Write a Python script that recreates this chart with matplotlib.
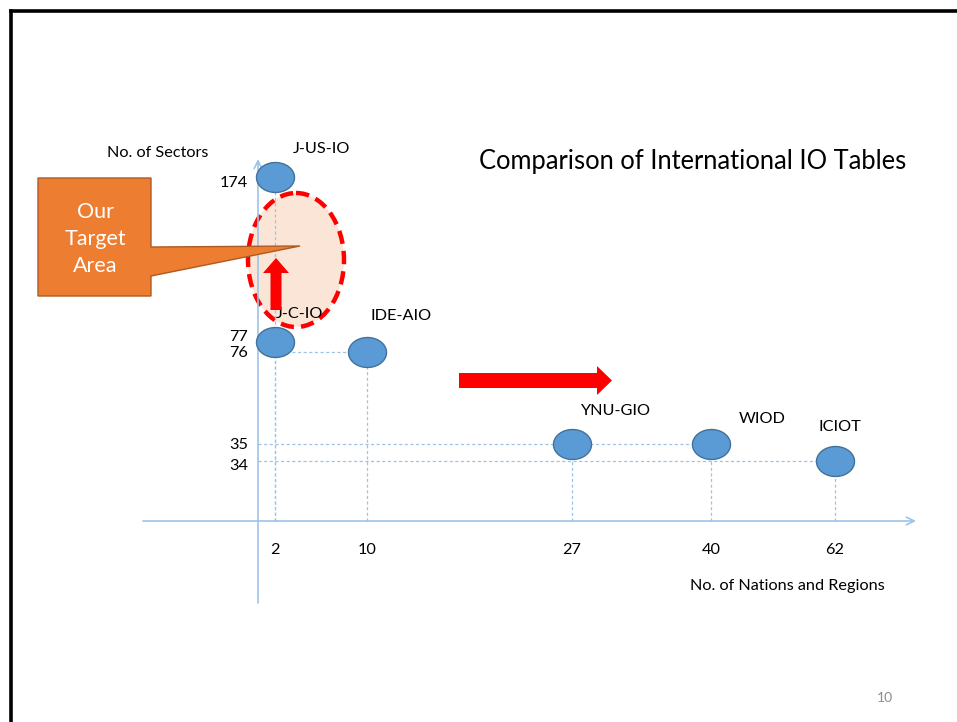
import numpy as np
import matplotlib
matplotlib.use("Agg")
import matplotlib.pyplot as plt
from matplotlib.patches import Ellipse, Polygon
from matplotlib.path import Path

# ---------------- data ----------------
tables = ["J-US-IO", "J-C-IO", "IDE-AIO", "YNU-GIO", "WIOD", "ICIOT"]
nations = [2, 2, 10, 27, 40, 62]
sectors = [174, 77, 76, 35, 35, 34]
x_tick_values = [2, 10, 27, 40, 62]
y_tick_values = [174, 77, 76, 35, 34]
title = "Comparison of International IO Tables"
x_label = "No. of Nations and Regions"
y_label = "No. of Sectors"
callout_text = "Our\nTarget\nArea"
page_number = "10"

# ---------------- schematic layout (pixel slots for the non-linear axes) ----------------
W, H = 957, 722
x_slot_vals = [2, 10, 27, 40, 62]
x_slot_px = [275, 367, 572, 711, 835]
y_slot_vals = [34, 35, 76, 77, 174]
y_slot_px = [461, 444, 352, 342, 177]          # measured from the top


def piecewise(xs, ys):
    xs = np.asarray(xs, float)
    ys = np.asarray(ys, float)

    def f(v):
        v = np.asarray(v, float)
        out = np.interp(v, xs, ys)
        s0 = (ys[1] - ys[0]) / (xs[1] - xs[0])
        s1 = (ys[-1] - ys[-2]) / (xs[-1] - xs[-2])
        out = np.where(v < xs[0], ys[0] + (v - xs[0]) * s0, out)
        out = np.where(v > xs[-1], ys[-1] + (v - xs[-1]) * s1, out)
        return out
    return f


xf = piecewise(x_slot_vals, x_slot_px)
xi = piecewise(x_slot_px, x_slot_vals)
y_up = [H - p for p in y_slot_px]
yf = piecewise(y_slot_vals, y_up)
yi = piecewise(y_up, y_slot_vals)

fig = plt.figure(figsize=(W / 100, H / 100), dpi=100)
fig.patch.set_facecolor("white")
FONT = ["Lato", "DejaVu Sans"]
FS = 11.7


def pixel_axes():
    a = fig.add_axes([0, 0, 1, 1])
    a.set_xlim(0, W)
    a.set_ylim(H, 0)
    a.axis("off")
    a.patch.set_alpha(0)
    return a


# decoration axes (below data)
deco = pixel_axes()

# data axes with schematic scale
ax = fig.add_axes([0, 0, 1, 1])
ax.set_xscale("function", functions=(xf, xi))
ax.set_yscale("function", functions=(yf, yi))
ax.set_xlim(float(xi(0)), float(xi(W)))
ax.set_ylim(float(yi(0)), float(yi(H)))
ax.axis("off")
ax.patch.set_alpha(0)

# overlay axes (above data)
top = pixel_axes()

# slide border
deco.plot([11, W], [11, 11], color="black", lw=2.6, solid_capstyle="projecting")
deco.plot([11, 11], [11, H], color="black", lw=2.6, solid_capstyle="projecting")

axis_col = "#9DC3E6"
guide_col = "#9DC3E6"

# axes arrows
deco.annotate("", xy=(916, 521), xytext=(143, 521),
              arrowprops=dict(arrowstyle="->", color=axis_col, lw=1.2,
                              mutation_scale=14, shrinkA=0, shrinkB=0))
deco.annotate("", xy=(258, 159), xytext=(258, 603),
              arrowprops=dict(arrowstyle="->", color=axis_col, lw=1.2,
                              mutation_scale=14, shrinkA=0, shrinkB=0))

# target ellipse
deco.add_patch(Ellipse((296, 260), 96, 134, facecolor="#FBE5D6", edgecolor="#FF0000",
                       lw=3.2, linestyle=(0, (3, 1.6)), zorder=1))

# guide lines (data driven)
base_val = float(yi(H - 521))
axis_xval = float(xi(258))
guide_kw = dict(colors=guide_col, linestyles=(0, (2.5, 2)), lw=0.9, zorder=2)
ax.vlines(nations, base_val, sectors, **guide_kw)
ax.hlines(sectors[2], nations[1], nations[2], **guide_kw)
ax.hlines(sectors[4], axis_xval, nations[4], **guide_kw)
ax.hlines(sectors[5], axis_xval, nations[5], **guide_kw)

# elliptical markers
t = np.linspace(0, 2 * np.pi, 60)
ell = Path(np.column_stack([1.27 * np.cos(t), np.sin(t)]), closed=True)
ax.plot(nations, sectors, linestyle="none", marker=ell, markersize=27.4,
        markerfacecolor="#5B9BD5", markeredgecolor="#41719C", markeredgewidth=1.0,
        zorder=5)

# point labels
label_offsets = {"J-US-IO": (47, 29), "J-C-IO": (25, 29), "IDE-AIO": (34, 37),
                 "YNU-GIO": (43, 34), "WIOD": (51, 26), "ICIOT": (5, 35)}
for name, xv, yv in zip(tables, nations, sectors):
    dx, dy = label_offsets[name]
    ax.annotate(name, (xv, yv), xytext=(dx * 0.72, (dy - 1) * 0.72),
                textcoords="offset points", ha="center", va="center", fontsize=FS,
                family=FONT, color="black", zorder=6)

# tick labels
for v in x_tick_values:
    ax.annotate(str(v), (v, base_val), xytext=(0, -29 * 0.72), textcoords="offset points",
                ha="center", va="center", fontsize=FS, family=FONT)
y_label_shift = {174: -6, 77: 5, 76: -1, 35: -1, 34: -5}
for v in y_tick_values:
    ax.annotate(str(v), (axis_xval, v), xytext=(-10 * 0.72, y_label_shift[v] * 0.72),
                textcoords="offset points", ha="right", va="center",
                fontsize=FS, family=FONT)

# axis labels / title
deco.text(158, 153, y_label, ha="center", va="center", fontsize=FS, family=FONT)
deco.text(787, 586, x_label, ha="center", va="center", fontsize=FS, family=FONT)
deco.text(693, 161, title, ha="center", va="center", fontsize=18.4, family=FONT)
deco.text(885, 698, page_number, ha="center", va="center", fontsize=10, family=FONT,
          color="#8C8C8C")

# callout (above the guide lines)
top.add_patch(Polygon([(38, 178), (151, 178), (151, 247), (300, 246), (151, 276),
                       (151, 296), (38, 296)], closed=True, facecolor="#ED7D31",
                      edgecolor="#AE5A21", lw=1, zorder=3))
top.text(95, 239, callout_text, ha="center", va="center", fontsize=15.5, family=FONT,
         color="white", linespacing=1.45, zorder=4)

# red block arrows
top.add_patch(Polygon([(270.5, 310), (281.5, 310), (281.5, 273), (289, 273), (276, 258),
                       (263, 273), (270.5, 273)], closed=True, facecolor="#FF0000",
                      edgecolor="none", zorder=4))
top.add_patch(Polygon([(459, 373), (597, 373), (597, 366), (612, 380.5), (597, 395),
                       (597, 388), (459, 388)], closed=True, facecolor="#FF0000",
                      edgecolor="none", zorder=4))

fig.savefig("out.png", dpi=100)
